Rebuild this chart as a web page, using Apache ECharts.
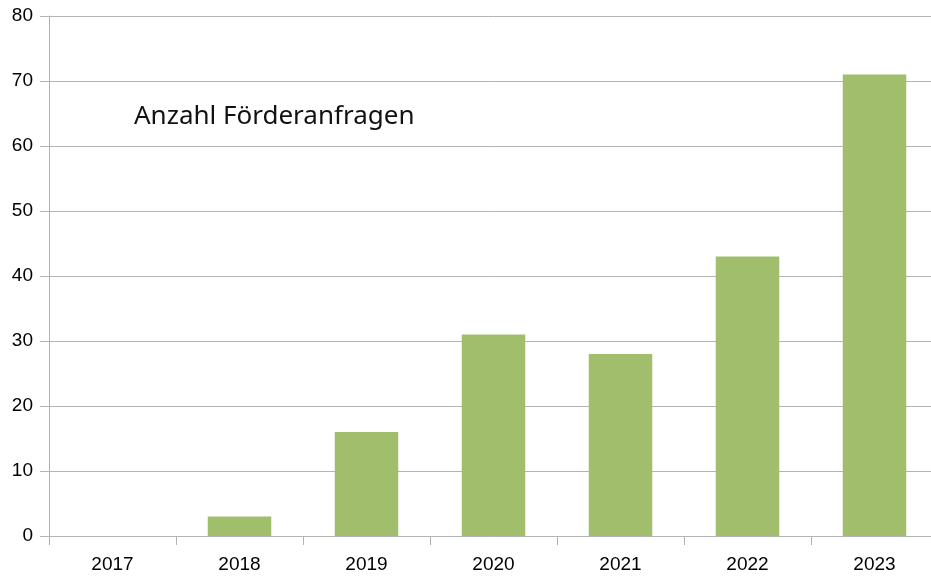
<!DOCTYPE html>
<html>
<head>
<meta charset="utf-8">
<script src="https://cdn.jsdelivr.net/npm/echarts@6/dist/echarts.min.js"></script>
<style>
  html, body { margin: 0; padding: 0; background: #fff; overflow: hidden; }
  #chart { width: 938px; height: 578px; }
</style>
</head>
<body>
<div id="chart"></div>
<script>
// Jahre und Anzahl der Förderanfragen
const years = ['2017', '2018', '2019', '2020', '2021', '2022', '2023'];
const anfragen = [0, 3, 16, 31, 28, 43, 71];
const yTicks = { min: 0, max: 80, step: 10 };

const chart = echarts.init(document.getElementById('chart'));
const option = {
  animation: false,
  title: {
    text: 'Anzahl Förderanfragen',
    left: 129,
    top: 99,
    textStyle: {
      fontFamily: 'Noto Sans',
      fontSize: 26,
      fontWeight: 'normal',
      color: '#111'
    }
  },
  // Plotfläche ragt rechts etwas über den sichtbaren Rand hinaus
  grid: { left: 49, right: 0, top: 16, bottom: 42, containLabel: false },
  xAxis: {
    type: 'category',
    data: years,
    axisLine: { lineStyle: { color: '#b3b3b3', width: 1 } },
    axisTick: { show: true, length: 9, lineStyle: { color: '#b3b3b3' } },
    axisLabel: { color: '#000', fontFamily: 'Liberation Sans', fontSize: 19, margin: 19 }
  },
  yAxis: {
    type: 'value',
    min: yTicks.min,
    max: yTicks.max,
    interval: yTicks.step,
    axisLine: { show: true, lineStyle: { color: '#b3b3b3', width: 1 } },
    axisTick: { show: true, length: 9, lineStyle: { color: '#b3b3b3' } },
    axisLabel: { color: '#000', fontFamily: 'Liberation Sans', fontSize: 19, margin: 16 },
    splitLine: { lineStyle: { color: '#b3b3b3', width: 1 } }
  },
  series: [{
    type: 'bar',
    data: anfragen,
    barCategoryGap: '50%',
    itemStyle: { color: '#a1be6c' }
  }]
};
chart.setOption(option);
</script>
</body>
</html>
